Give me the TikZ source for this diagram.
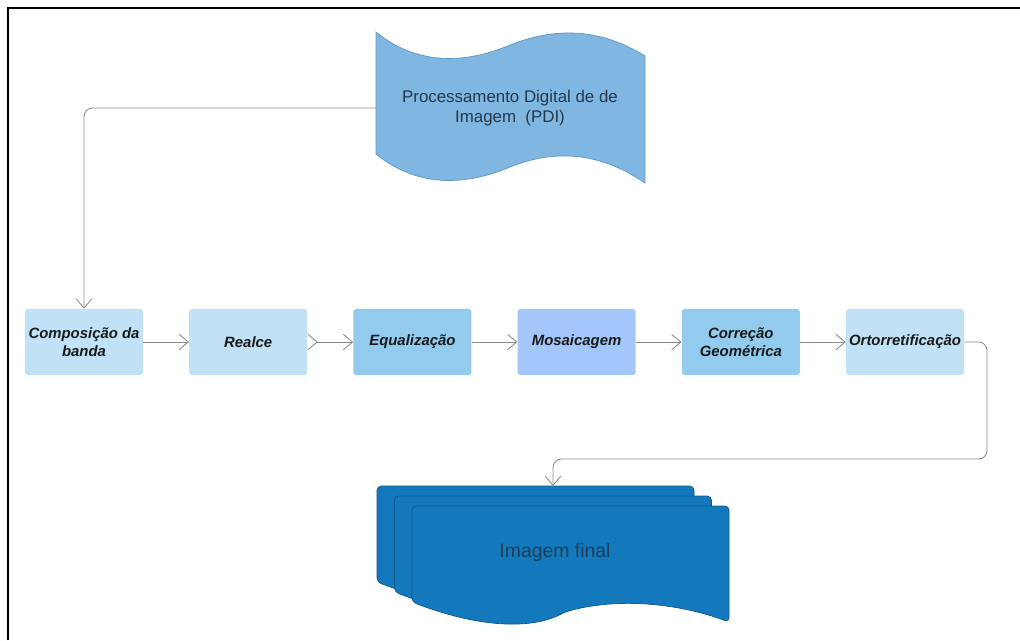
\documentclass[tikz,border=0pt]{standalone}
\usepackage{fontspec}
\setmainfont{Liberation Sans}
\usetikzlibrary{positioning,arrows.meta,calc}

\definecolor{boxlight}{HTML}{C0E1F6}
\definecolor{boxmid}{HTML}{93CBEF}
\definecolor{boxmos}{HTML}{A3C7FA}
\definecolor{pdifill}{HTML}{80B7E2}
\definecolor{pdiline}{HTML}{5F97C4}
\definecolor{stackfill}{HTML}{1378BC}
\definecolor{stackline}{HTML}{0D5990}
\definecolor{linha}{HTML}{8A8A8A}

\tikzset{
  etapa/.style={rectangle, rounded corners=2pt, minimum width=2.95cm, minimum height=1.65cm,
    inner xsep=1pt, align=center, text=black!90,
    font=\bfseries\itshape\fontsize{10.6}{12.5}\selectfont},
  fluxo/.style={draw=linha, line width=0.6pt, -{Straight Barb[length=6.5pt,width=11pt]}},
  folha/.style={fill=stackfill, draw=stackline, line width=0.5pt, rounded corners=3},
}

\begin{document}
\begin{tikzpicture}[x=0.025cm,y=-0.025cm]
  \useasboundingbox (0,0) rectangle (1020,640);
  \draw[line width=1.3pt] (8,640) -- (8,8) -- (1020,8);
  %
  \filldraw[fill=pdifill, draw=pdiline, line width=0.5pt]
    (376,32) .. controls (420,68) and (470,62) .. (510,45)
    .. controls (555,27) and (600,28) .. (645,56) -- (645,183)
    .. controls (600,152) and (555,149) .. (510,167)
    .. controls (470,184) and (420,190) .. (376,154) -- cycle;
  \node[align=center, text={rgb,255:red,40;green,55;blue,72},
    font=\fontsize{12}{14.5}\selectfont] (pdi) at (510,108)
    {Processamento Digital de de\\Imagem\ \ (PDI)};
  \coordinate (pdiW) at (376,108);
  %
  \node[etapa, fill=boxlight] (comp) at (84,342) {Composição da\\banda};
  \node[etapa, fill=boxlight, right=1.14cm of comp] (realce) {Realce};
  \node[etapa, fill=boxmid, right=1.14cm of realce] (equal) {Equalização};
  \node[etapa, fill=boxmos, right=1.14cm of equal] (mosaic) {Mosaicagem};
  \node[etapa, fill=boxmid, right=1.14cm of mosaic] (correc) {Correção\\Geométrica};
  \node[etapa, fill=boxlight, right=1.14cm of correc] (orto) {Ortorretificação};
  %
  \foreach \d in {0,1,2} {
    \begin{scope}[shift={({17.5*\d},{10*\d})}]
      \filldraw[folha] (377,486) -- (694,486) -- (694,602)
        .. controls (640,582) and (580,578) .. (530,592)
        .. controls (500,608) and (450,610) .. (377,582) -- cycle;
    \end{scope}
  }
  \node[text={rgb,255:red,31;green,63;blue,92}, font=\fontsize{13.8}{16}\selectfont]
    (final) at (555,552) {Imagem final};
  \coordinate (volta) at (987,459);
  \coordinate (entrada) at (553,486);
  %
  \draw[fluxo, rounded corners=6] (pdiW) -| (comp.north);
  \draw[fluxo] (comp) -- (realce);
  \draw[fluxo, {Straight Barb[reversed,length=6.5pt,width=11pt]}-{Straight Barb[length=6.5pt,width=11pt]}] (realce) -- (equal);
  \draw[fluxo] (equal) -- (mosaic);
  \draw[fluxo] (mosaic) -- (correc);
  \draw[fluxo] (correc) -- (orto);
  \draw[fluxo, rounded corners=6] (orto.east) -| (volta) -| (entrada);
\end{tikzpicture}
\end{document}
